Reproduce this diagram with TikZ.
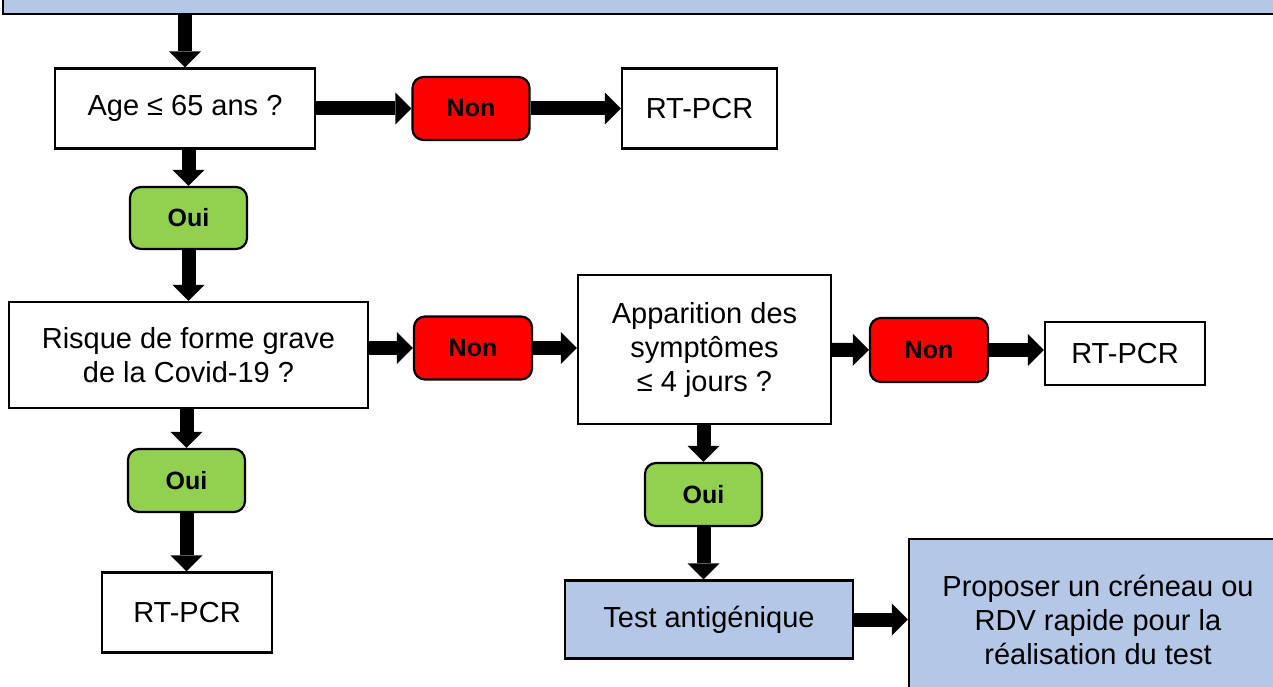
\documentclass[tikz,border=0pt]{standalone}
\usepackage{fontspec}
\setmainfont{Liberation Sans}
\usetikzlibrary{arrows.meta}

\definecolor{bleuclair}{RGB}{180,199,231}
\definecolor{vertoui}{RGB}{146,208,80}
\definecolor{rougenon}{RGB}{255,0,0}

\tikzset{
	cadre/.style={draw, line width=2.2pt, align=center, inner sep=0pt, font=\fontsize{29}{34}\selectfont},
	reponse/.style={cadre, rounded corners=11pt, font=\fontsize{25}{30}\selectfont\bfseries},
	non/.style={reponse, fill=rougenon},
	oui/.style={reponse, fill=vertoui},
	fleche/.style={line width=14pt, -{Triangle[length=16pt,width=32pt,line width=0pt]}}
}

\begin{document}
\begin{tikzpicture}[x=1pt,y=-1pt]
	
	\useasboundingbox (0,0) rectangle (1273,687);
	\clip (0,0) rectangle (1273,687);
	
	\node[cadre, fill=bleuclair, minimum width=1287pt, minimum height=34pt] (bandeau) at (646.5,-3) {};
	
	\node[cadre, minimum width=260pt, minimum height=80pt] (age) at (185,108.5) {Age ≤ 65 ans ?};
	\node[non, minimum width=117pt, minimum height=63pt] (non1) at (471,108.5) {Non};
	\node[cadre, minimum width=155pt, minimum height=80pt] (rt1) at (699.5,108.5) {RT-PCR};
	
	\node[oui, minimum width=117pt, minimum height=62pt] (oui1) at (188.5,218) {Oui};
	\node[cadre, minimum width=359pt, minimum height=106pt] (risque) at (188.5,355) {Risque de forme grave\\de la Covid-19 ?};
	\node[oui, minimum width=117pt, minimum height=63pt] (oui2) at (186.5,480.5) {Oui};
	\node[cadre, minimum width=170pt, minimum height=80pt] (rt2) at (187,612.5) {RT-PCR};
	
	\node[non, minimum width=118pt, minimum height=63pt] (non2) at (473,348) {Non};
	\node[cadre, minimum width=253pt, minimum height=149pt] (appar) at (704.5,349.5) {Apparition des\\symptômes\\≤ 4 jours ?};
	\node[non, minimum width=118pt, minimum height=64pt] (non3) at (929,350) {Non};
	\node[cadre, minimum width=160pt, minimum height=63pt] (rt3) at (1125,353.5) {RT-PCR};
	
	\node[oui, minimum width=117pt, minimum height=63pt] (oui3) at (703.5,494.5) {Oui};
	\node[cadre, fill=bleuclair, minimum width=288pt, minimum height=78pt] (test) at (709,619.5) {Test antigénique};
	\node[cadre, fill=bleuclair, minimum width=378pt, minimum height=162pt] (rdv) at (1098,620) {Proposer un créneau ou\\RDV rapide pour la\\réalisation du test};
	
	% fleches
	\draw[fleche] (age |- bandeau.south) -- (age);
	\draw[fleche] (age) -- (non1);
	\draw[fleche] (non1) -- (rt1);
	\draw[fleche] (age.south -| oui1) -- (oui1);
	\draw[fleche] (oui1) -- (risque);
	\draw[fleche] (risque.south -| oui2) -- (oui2);
	\draw[fleche] (oui2) -- (oui2 |- rt2.north);
	\draw[fleche] (risque.east |- non2) -- (non2);
	\draw[fleche] (non2) -- (appar.west |- non2);
	\draw[fleche] (appar) -- (non3);
	\draw[fleche] (non3) -- (rt3.west |- non3);
	\draw[fleche] (appar.south -| oui3) -- (oui3);
	\draw[fleche] (oui3) -- (oui3 |- test.north);
	\draw[fleche] (test) -- (rdv.west |- test);
	
\end{tikzpicture}
\end{document}
